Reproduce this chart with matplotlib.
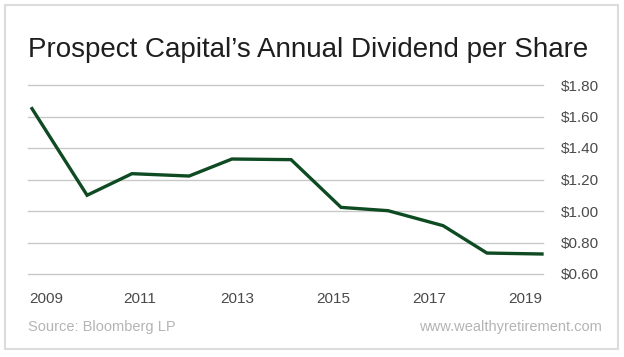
import matplotlib
matplotlib.use("Agg")
import matplotlib.pyplot as plt  # noqa: E402
from matplotlib.patches import Rectangle  # noqa: E402

# dividend per share (x = position in years)
years = [2009.0, 2010.08, 2010.96, 2012.08, 2012.92, 2014.08,
         2015.06, 2015.98, 2017.06, 2017.92, 2019.0]
dividend = [1.65, 1.10, 1.237, 1.222, 1.33, 1.326,
            1.023, 1.002, 0.907, 0.733, 0.727]
year_labels = ["2009", "2011", "2013", "2015", "2017", "2019"]
y_ticks = [0.6, 0.8, 1.0, 1.2, 1.4, 1.6, 1.8]

plt.rcParams['font.family'] = ['Liberation Sans', 'DejaVu Sans']

fig = plt.figure(figsize=(6.24, 3.57), dpi=100)
W, H = 624, 357

# light gray frame round the whole chart
fig.patches.append(Rectangle((5 / W, 1 - 349 / H), 613 / W, 344 / H,
                             transform=fig.transFigure, fill=False,
                             edgecolor="#dcdcdc", linewidth=1.5))

ax = fig.add_axes([28 / W, 1 - 274 / H, 515 / W, 189 / H])
ax.plot(years, dividend, color="#0e4a22", linewidth=2.4,
        solid_joinstyle="miter", clip_on=False, zorder=3)

ax.set_xlim(2009 - 4 / 51, 2019 + 1 / 51)
ax.set_ylim(0.6, 1.8)
ax.set_yticks(y_ticks)
ax.set_yticklabels(["$%.2f" % v for v in y_ticks])
ax.yaxis.tick_right()
ax.grid(axis="y", color="#c8c8c8", linewidth=1)
ax.set_axisbelow(True)
for gl in ax.get_ygridlines():
    gl.set_clip_on(False)

tick_pos = [2009 + (px - 32) / 51 for px in (46, 140, 237, 333, 429, 525)]
ax.set_xticks(tick_pos)
ax.set_xticklabels(year_labels)

ax.tick_params(axis="both", length=0, labelsize=11, labelcolor="#4a4a4a")
ax.tick_params(axis="x", pad=13)
ax.tick_params(axis="y", pad=13)
for s in ax.spines.values():
    s.set_visible(False)

fig.text(28 / W, 1 - 50 / H, "Prospect Capital\u2019s Annual Dividend per Share",
         fontsize=20, color="#1e1e1e", va="center", ha="left")
fig.text(28 / W, 1 - 327 / H, "Source: Bloomberg LP",
         fontsize=10.5, color="#b4b4b4", va="center", ha="left")
fig.text(602 / W, 1 - 327 / H, "www.wealthyretirement.com",
         fontsize=10.5, color="#b4b4b4", va="center", ha="right")

fig.savefig("out.png", dpi=100)
